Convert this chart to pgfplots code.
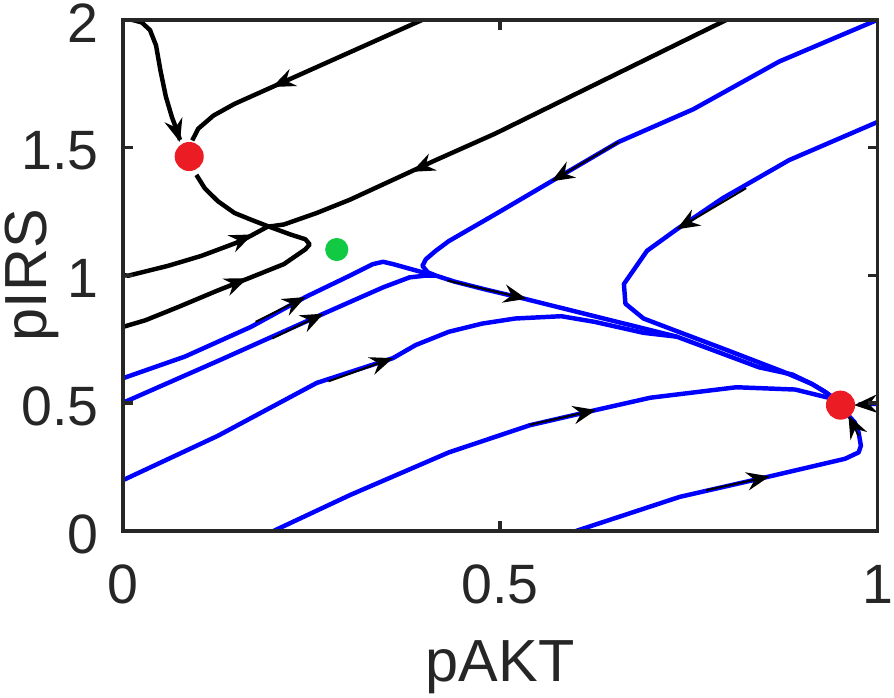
\documentclass[border=0pt]{standalone}
\usepackage{fontspec}
\setmainfont{Liberation Sans}
\usepackage{pgfplots}
\pgfplotsset{compat=1.18}
\usetikzlibrary{arrows.meta}

\definecolor{axgray}{rgb}{0.15,0.15,0.15}
\definecolor{mred}{RGB}{236,28,36}
\definecolor{mgreen}{RGB}{18,201,67}
\definecolor{mblue}{RGB}{0,0,255}

\pgfplotsset{
  traj/.style={line width=1.35pt, no markers, line join=round},
  arr/.style={black, line width=0.6pt, no markers,
    -{Stealth[length=7pt,width=5.6pt,inset=2.4pt]}},
}

\begin{document}
\begin{tikzpicture}
\begin{axis}[
  name=ax,
  scale only axis, width=228.6pt, height=154.8pt,
  xmin=0, xmax=1, ymin=0, ymax=2,
  xtick={0,0.5,1}, ytick={0,0.5,1,1.5,2},
  tick align=inside, major tick length=3pt,
  axis line style={axgray, line width=1.1pt},
  every tick/.style={axgray, line width=1.1pt},
  /pgf/number format/assume math mode=true,
  tick label style={font=\fontsize{16.8}{20}\selectfont, text=axgray, inner sep=0pt},
  xticklabel style={yshift=-10.2pt},
  yticklabel style={xshift=-7.2pt, yshift=-1pt},
  label style={font=\fontsize{18}{21}\selectfont, text=axgray, inner sep=0pt},
  xlabel={pAKT}, ylabel={pIRS},
  xlabel style={at={(axis description cs:0.5,-0.2946)}, anchor=base},
  ylabel style={at={(axis description cs:-0.1012,0.5)}, anchor=base},
  axis on top,
]
% black trajectories
\addplot[traj, black] coordinates {(0.012,2.0) (0.025,1.99) (0.036,1.96) (0.044,1.9) (0.050,1.8) (0.057,1.7) (0.065,1.62) (0.072,1.565) (0.0757,1.53)};
\addplot[traj, black] coordinates {(0.397,2.0) (0.198,1.737) (0.148,1.671) (0.12,1.625) (0.10,1.574) (0.092,1.528)};
\addplot[traj, black] coordinates {(0,1.0) (0.0079,0.999) (0.0604,1.0375) (0.104,1.076) (0.1566,1.134) (0.1916,1.19) (0.2135,1.199) (0.257,1.244) (0.301,1.296) (0.4147,1.451) (0.493,1.554) (0.8,2.0)};
\addplot[traj, black] coordinates {(0.0975,1.393) (0.1085,1.341) (0.126,1.29) (0.148,1.244) (0.1697,1.218) (0.1916,1.193) (0.222,1.16) (0.242,1.141) (0.2476,1.121) (0.242,1.102) (0.2135,1.044) (0.1697,0.992) (0.126,0.941) (0.0735,0.876) (0.0298,0.824) (0,0.798)};
% blue trajectories
\addplot[traj, mblue] coordinates {(1.0,2.0) (0.87,1.837) (0.756,1.65) (0.657,1.522) (0.568,1.368) (0.493,1.238) (0.432,1.134) (0.4147,1.096) (0.4016,1.063) (0.397,1.037) (0.404,1.012) (0.4147,0.999) (0.44,0.975) (0.48,0.945) (0.53,0.91) (0.625,0.84) (0.734,0.76) (0.843,0.64) (0.887,0.612) (0.913,0.575) (0.931,0.543) (0.944,0.515)};
\addplot[traj, mblue] coordinates {(1.0,1.6) (0.883,1.451) (0.795,1.302) (0.734,1.18) (0.6946,1.096) (0.664,0.966) (0.666,0.889) (0.69,0.831) (0.73,0.786) (0.80,0.708) (0.874,0.624) (0.913,0.575) (0.931,0.543) (0.944,0.515)};
\addplot[traj, mblue] coordinates {(0,0.597) (0.0823,0.682) (0.1697,0.798) (0.242,0.915) (0.301,0.999) (0.3316,1.044) (0.345,1.053) (0.358,1.044) (0.397,1.012) (0.4147,0.999)};
\addplot[traj, mblue] coordinates {(0,0.501) (0.13,0.67) (0.266,0.85) (0.345,0.953) (0.38,0.992) (0.4016,0.999) (0.4147,0.999)};
\addplot[traj, mblue] coordinates {(0,0.198) (0.126,0.372) (0.257,0.579) (0.358,0.676) (0.388,0.727) (0.432,0.779) (0.476,0.811) (0.52,0.831) (0.581,0.84) (0.625,0.818) (0.69,0.775) (0.734,0.76)};
\addplot[traj, mblue] coordinates {(0.2,0.0) (0.301,0.14) (0.432,0.307) (0.539,0.413) (0.627,0.473) (0.699,0.521) (0.813,0.562) (0.891,0.553) (0.935,0.521)};
\addplot[traj, mblue] coordinates {(0.601,0.0) (0.738,0.133) (0.857,0.213) (0.957,0.282) (0.975,0.307) (0.978,0.333) (0.975,0.385) (0.97,0.424) (0.962,0.45)};
\addplot[traj, mblue] coordinates {(1.0,0.497) (0.975,0.495)};
% equilibria
\addplot[only marks, mark=*, mark size=4.2pt, color=mred] coordinates {(0.088,1.465) (0.951,0.492)};
\addplot[only marks, mark=*, mark size=3.3pt, color=mgreen] coordinates {(0.2835,1.101)};
% direction arrows
\addplot[arr] coordinates {(0.068,1.6) (0.0757,1.522)};
\addplot[arr] coordinates {(0.235,1.786) (0.198,1.737)};
\addplot[arr] coordinates {(0.43,1.47) (0.383,1.405)};
\addplot[arr] coordinates {(0.125,1.099) (0.172,1.16)};
\addplot[arr] coordinates {(0.126,0.941) (0.165,0.988)};
\addplot[arr] coordinates {(0.657,1.522) (0.568,1.368)};
\addplot[arr] coordinates {(0.826,1.341) (0.734,1.18)};
\addplot[arr] coordinates {(0.176,0.818) (0.242,0.915)};
\addplot[arr] coordinates {(0.198,0.753) (0.266,0.85)};
\addplot[arr] coordinates {(0.2725,0.585) (0.358,0.676)};
\addplot[arr] coordinates {(0.43,0.98) (0.535,0.908)};
\addplot[arr] coordinates {(0.539,0.415) (0.627,0.473)};
\addplot[arr] coordinates {(0.773,0.159) (0.857,0.213)};
\addplot[arr] coordinates {(0.975,0.372) (0.9615,0.452)};
\addplot[arr] coordinates {(0.997,0.497) (0.969,0.492)};
\end{axis}
\pgfresetboundingbox
\path ([shift={(-37.2pt,-50.6pt)}]ax.south west) rectangle ([shift={(5pt,6pt)}]ax.north east);
\end{tikzpicture}
\end{document}
